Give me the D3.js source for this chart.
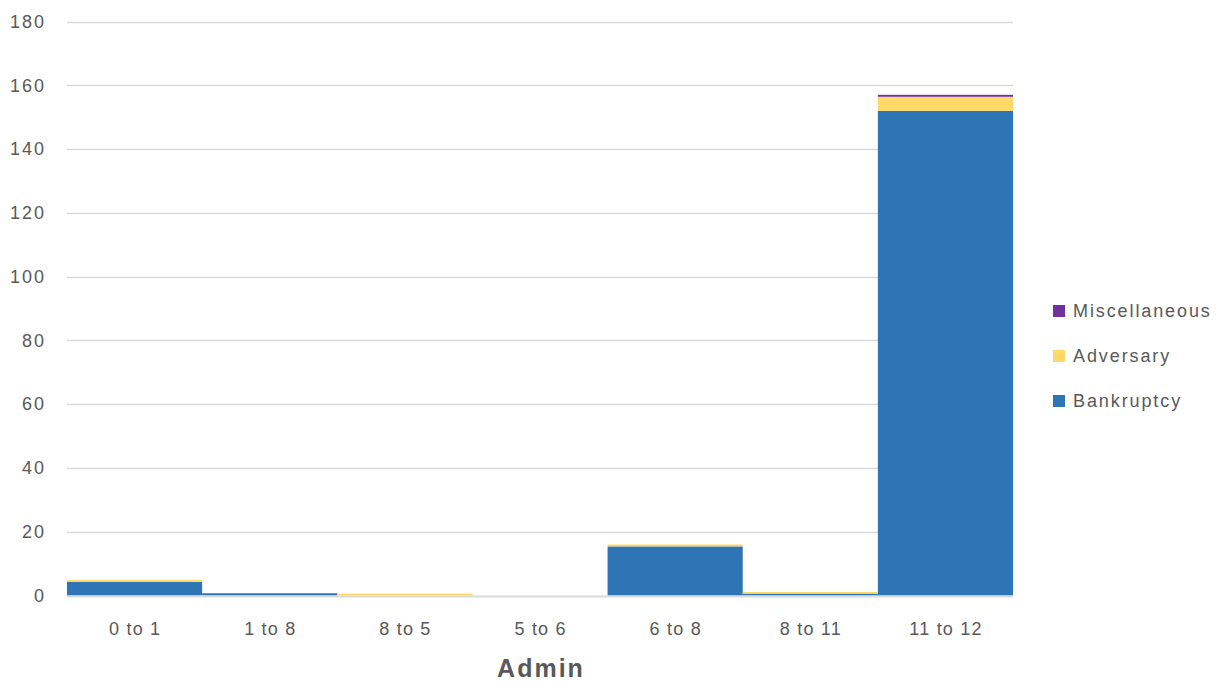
<!DOCTYPE html>
<html><head><meta charset="utf-8">
<script src="https://cdn.jsdelivr.net/npm/d3@7"></script>
<style>body{margin:0;background:#fff}svg{display:block}</style>
</head><body>
<svg id="c" width="1222" height="683"></svg>
<script>
const categories = ["0 to 1","1 to 8","8 to 5","5 to 6","6 to 8","8 to 11","11 to 12"];
const bankruptcy = [4.3, 0.7, 0, 0, 15.4, 0.6, 152];
const adversary = [0.6, 0, 0.6, 0, 0.6, 0.5, 4.4];
const miscellaneous = [0, 0, 0, 0, 0, 0, 0.6];
const seriesNames = ["Bankruptcy","Adversary","Miscellaneous"];
const seriesColors = ["#2e75b6","#ffd966","#7030a0"];
const yTicks = [0,20,40,60,80,100,120,140,160,180];
const xTitle = "Admin";

const svg = d3.select("#c");
const m = {left:67, right:1013, top:21.5, bottom:595.5};
const x = d3.scaleBand().domain(categories).range([m.left, m.right]).padding(0);
const y = d3.scaleLinear().domain([0,180]).range([m.bottom, m.top]);
const font = "'Liberation Sans', Arial, sans-serif";
const txt = "#595959";

// gridlines
svg.append("g").selectAll("line").data(yTicks.filter(d=>d>0)).join("line")
  .attr("x1", m.left).attr("x2", m.right)
  .attr("y1", d=>Math.round(y(d))+0.5).attr("y2", d=>Math.round(y(d))+0.5)
  .attr("stroke","#d9d9d9").attr("stroke-width",1.3);

// y labels
svg.append("g").selectAll("text").data(yTicks).join("text")
  .attr("x", 46).attr("y", d=>y(d)).attr("dy","0.35em")
  .attr("text-anchor","end").attr("font-family",font).attr("font-size",18)
  .attr("letter-spacing",2).attr("fill",txt)
  .text(d=>d);

// stacked bars
const rows = categories.map((c,i)=>({cat:c, Bankruptcy:bankruptcy[i], Adversary:adversary[i], Miscellaneous:miscellaneous[i]}));
const stack = d3.stack().keys(seriesNames)(rows);
svg.append("g").selectAll("g").data(stack).join("g")
  .attr("fill",(d,i)=>seriesColors[i])
  .selectAll("rect").data(d=>d).join("rect")
  .attr("x", d=>x(d.data.cat)).attr("width", x.bandwidth())
  .attr("y", d=>y(d[1])).attr("height", d=>Math.max(0, y(d[0])-y(d[1])));

// baseline
svg.append("line").attr("x1",m.left).attr("x2",m.right)
  .attr("y1",y(0)+1).attr("y2",y(0)+1).attr("stroke","#d9d9d9").attr("stroke-width",2);

// x labels
svg.append("g").selectAll("text").data(categories).join("text")
  .attr("x", d=>x(d)+x.bandwidth()/2+0.6).attr("y", 635)
  .attr("text-anchor","middle").attr("font-family",font).attr("font-size",18)
  .attr("letter-spacing",1.2).attr("fill",txt)
  .text(d=>d);

svg.append("text").attr("x",(m.left+m.right)/2+1).attr("y",677)
  .attr("text-anchor","middle").attr("font-family",font).attr("font-size",25)
  .attr("letter-spacing",2)
  .attr("font-weight","bold").attr("fill",txt).text(xTitle);

// legend
const legendItems = ["Miscellaneous","Adversary","Bankruptcy"];
const lg = svg.append("g").selectAll("g").data(legendItems).join("g")
  .attr("transform",(d,i)=>`translate(1053,${311+i*45})`);
lg.append("rect").attr("x",0).attr("y",-6).attr("width",12).attr("height",12)
  .attr("fill",d=>seriesColors[seriesNames.indexOf(d)]);
lg.append("text").attr("x",20).attr("y",0).attr("dy","0.35em")
  .attr("font-family",font).attr("font-size",18).attr("letter-spacing",1.9)
  .attr("fill",txt).text(d=>d);
</script>
</body></html>
